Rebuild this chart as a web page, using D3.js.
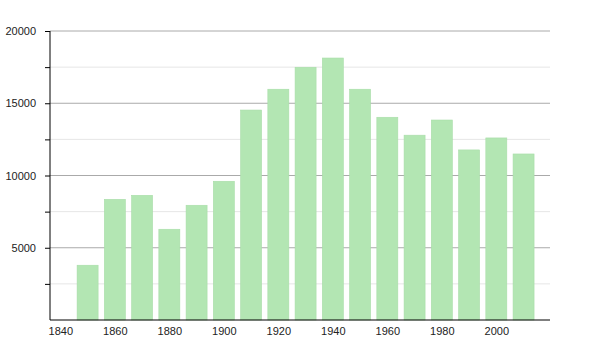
<!DOCTYPE html>
<html>
<head>
<meta charset="utf-8">
<script src="https://cdn.jsdelivr.net/npm/d3@7"></script>
<style>
  body { margin: 0; background: #fff; }
  text { font-family: "Liberation Sans", Arial, sans-serif; }
</style>
</head>
<body>
<div id="chart"></div>
<script>
// data
var years = [1850, 1860, 1870, 1880, 1890, 1900, 1910, 1920, 1930, 1940, 1950, 1960, 1970, 1980, 1990, 2000, 2010];
var values = [3790, 8350, 8630, 6280, 7940, 9600, 14530, 15970, 17490, 18130, 15970, 14030, 12790, 13840, 11770, 12600, 11490];
var yMajor = [5000, 10000, 15000, 20000];
var yMinor = [2500, 7500, 12500, 17500];
var xTicks = [1840, 1860, 1880, 1900, 1920, 1940, 1960, 1980, 2000];

var W = 600, H = 350;
var svg = d3.select("#chart")
  .append("svg")
    .attr("width", W)
    .attr("height", H);

var x = d3.scaleLinear()
  .domain([1836.2, 2019.7])
  .range([50, 550]);

var y = d3.scaleLinear()
  .domain([0, 20000])
  .range([320, 31]);

// gridlines
svg.selectAll(".minor")
  .data(yMinor)
  .join("line")
    .attr("x1", 50).attr("x2", 550)
    .attr("y1", d => y(d)).attr("y2", d => y(d))
    .attr("stroke", "#e6e6e6");

svg.selectAll(".major")
  .data(yMajor)
  .join("line")
    .attr("x1", 50).attr("x2", 550)
    .attr("y1", d => y(d)).attr("y2", d => y(d))
    .attr("stroke", "#aaaaaa");

// bars
var bw = 21;
svg.selectAll("rect")
  .data(years)
  .join("rect")
    .attr("x", (d) => x(d) - bw / 2)
    .attr("y", (d, i) => y(values[i]))
    .attr("width", bw)
    .attr("height", (d, i) => 320 - y(values[i]))
    .attr("fill", "#b3e6b3")
    .attr("stroke", "#a8dda8")
    .attr("stroke-width", 0.6);

// Y axis
var yAxis = svg.append("g")
  .attr("transform", "translate(50,0)")
  .call(d3.axisLeft(y)
    .tickValues(yMajor.concat(yMinor))
    .tickSize(5)
    .tickPadding(9)
    .tickFormat(d => yMajor.indexOf(d) >= 0 ? d : ""));
yAxis.select(".domain").attr("d", "M0," + y(20000) + "V" + y(0));
yAxis.selectAll("text").style("font-size", "11px").attr("fill", "#222");

// X axis
var xAxis = svg.append("g")
  .attr("transform", "translate(0,320)")
  .call(d3.axisBottom(x).tickValues(xTicks).tickSize(0).tickPadding(7).tickFormat(d3.format("d")));
xAxis.select(".domain").attr("d", "M50,0H550");
xAxis.selectAll("text").style("font-size", "11px").attr("fill", "#222");
</script>
</body>
</html>
